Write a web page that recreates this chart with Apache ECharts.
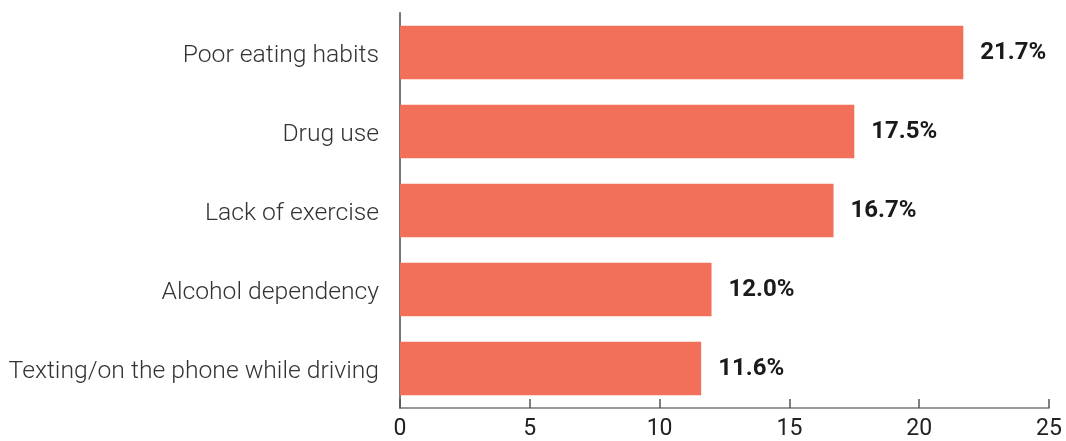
<!DOCTYPE html>
<html>
<head>
<meta charset="utf-8">
<script src="https://cdn.jsdelivr.net/npm/echarts@6/dist/echarts.min.js"></script>
<style>
  html, body { margin: 0; padding: 0; background: #fff; }
  #chart { width: 1066px; height: 441px; }
</style>
</head>
<body>
<div id="chart"></div>
<script>
// Health risk categories, listed bottom to top
const categories = [
  'Texting/on the phone while driving',
  'Alcohol dependency',
  'Lack of exercise',
  'Drug use',
  'Poor eating habits'
];
const values = [11.6, 12.0, 16.7, 17.5, 21.7];
const xTicks = [0, 5, 10, 15, 20, 25];

const chart = echarts.init(document.getElementById('chart'));
chart.setOption({
  animation: false,
  grid: { left: 400, right: 17, top: 13, bottom: 33, containLabel: false },
  xAxis: {
    type: 'value',
    min: xTicks[0],
    max: xTicks[xTicks.length - 1],
    interval: 5,
    axisLine: { show: true, lineStyle: { color: '#777', width: 1.5 } },
    axisTick: { show: true, inside: true, length: 9, lineStyle: { color: '#555', width: 1.5 } },
    splitLine: { show: false },
    axisLabel: { color: '#222', fontFamily: 'Roboto', fontSize: 23, margin: 10 }
  },
  yAxis: {
    type: 'category',
    data: categories,
    axisLine: { show: true, lineStyle: { color: '#777', width: 2 } },
    axisTick: { show: false },
    axisLabel: {
      margin: 21,
      formatter: v => '{c|' + v + '}',
      rich: {
        c: {
          color: '#333', fontFamily: 'Roboto', fontWeight: 300, fontSize: 24.7,
          padding: [7, 0, 0, 0]
        }
      }
    }
  },
  series: [{
    type: 'bar',
    data: values,
    barWidth: '68%',
    itemStyle: { color: '#f2705a' },
    label: {
      show: true,
      position: 'right',
      distance: 17,
      formatter: p => p.value.toFixed(1) + '%',
      color: '#1a1a1a',
      fontFamily: 'Roboto',
      fontWeight: 'bold',
      fontSize: 24
    }
  }]
});
</script>
</body>
</html>
